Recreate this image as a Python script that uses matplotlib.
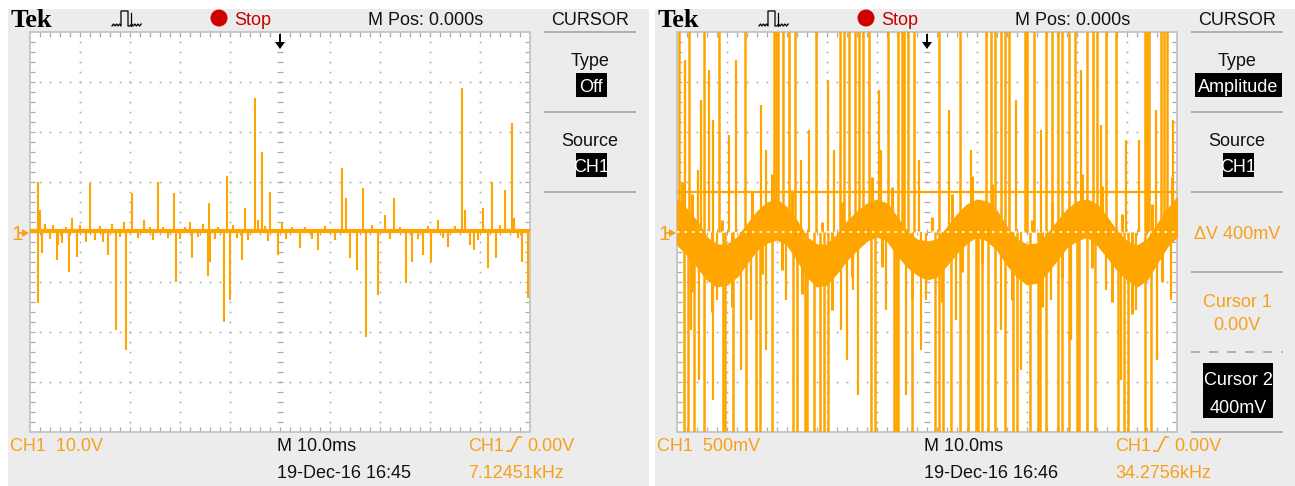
import matplotlib
matplotlib.use("Agg")
import numpy as np
import matplotlib.pyplot as plt
from matplotlib.patches import Rectangle, Circle, Polygon
from matplotlib.collections import LineCollection
from matplotlib.transforms import Affine2D

# ---------------- capture 1: CH1 10.0 V/div, 10.0 ms/div ----------------
left_base_t = [-50.0, 50.0]          # ms
left_base_v = [0.2, 0.2]             # V
left_spike_t = [-48.4, -48.4, -48.0, -47.6, -44.6, -44.4, -41.6, -42.2, -40.6, -38.8,
                -38.0, -34.4, -32.8, -31.2, -30.8, -29.6, -27.2, -24.4, -21.2, -20.8,
                -18.0, -17.6, -14.2, -14.4, -14.0, -11.2, -10.6, -10.0, -7.6, -7.0,
                -5.0, -4.4, -3.6, -2.0, -0.4, 0.4, 4.0, 7.6, 12.4, 13.2,
                14.0, 15.4, 16.6, 17.2, 19.6, 21.0, 22.8, 25.2, 26.4, 28.6,
                30.2, 31.6, 33.6, 36.4, 37.0, 38.0, 38.8, 40.6, 41.6, 42.4,
                43.2, 45.0, 46.4, 46.8, 48.4, 49.6]
left_spike_v = [10.0, -14.2, 4.4, -4.2, -5.6, -2.6, 2.8, -8.0, -5.0, -2.0,
                9.8, -4.6, -19.6, 2.0, -23.6, 7.8, 2.4, 10.0, 7.8, -10.0,
                2.0, -5.2, 5.8, -8.8, -6.0, -18.0, 11.2, -13.6, -5.6, 4.8,
                26.8, 2.4, 16.0, 8.0, -4.6, 2.0, -3.2, -3.6, 12.8, 6.8,
                -5.2, -7.6, 8.8, -21.0, -12.6, 3.4, 6.8, -10.2, -6.0, -4.6,
                -6.0, 2.4, -3.0, 28.8, 4.4, -2.6, -3.6, 4.8, -7.2, 10.0,
                -5.2, 8.4, 21.8, 2.8, -6.0, -13.2]
# small ripple riding on the baseline
left_blip_t = [-47.0, -46.0, -45.4, -43.6, -42.8, -40.0, -37.0, -36.0, -35.4, -33.6,
               -32.0, -28.4, -26.0, -25.4, -23.4, -22.4, -20.0, -19.0, -16.4, -15.4,
               -13.0, -12.4, -9.4, -8.6, -6.4, -3.0, -2.4, 1.2, 2.4, 5.0,
               6.4, 9.0, 11.0, 18.4, 22.0, 24.0, 27.6, 29.6, 32.6, 35.0,
               39.6, 44.0, 47.6]
left_blip_v = [1.6, -1.4, 1.4, -2.2, 1.0, 1.4, -1.6, 1.2, -2.0, 1.6,
               -1.0, -1.2, 1.0, -1.6, 1.0, -1.2, -1.4, 1.0, -1.0, 1.6,
               -1.4, 1.0, 1.4, -1.2, -1.6, 1.2, -1.8, -1.4, 1.0, 1.0,
               -1.4, 1.2, -1.6, 1.4, -1.4, 1.0, -1.4, 1.2, -1.2, 1.2,
               -1.6, 1.4, -1.2]

# ---------------- capture 2: CH1 500 mV/div, 10.0 ms/div ----------------
right_band_t = [-50, -48, -46, -44, -42, -40, -38, -36, -34, -32, -30, -28, -26,
                -24, -22, -20, -18, -16, -14, -12, -10, -8, -6, -4, -2, 0,
                2, 4, 6, 8, 10, 12, 14, 16, 18, 20, 22, 24, 26, 28, 30,
                32, 34, 36, 38, 40, 42, 44, 46, 48, 50]
right_band_hi = [0.32, 0.22, 0.10, -0.06, -0.13, -0.13, -0.06, 0.07, 0.20, 0.29, 0.32,
                 0.24, 0.10, -0.06, -0.13, -0.13, -0.03, 0.10, 0.20, 0.28, 0.32, 0.28,
                 0.14, 0.00, -0.08, -0.10, -0.08, 0.04, 0.17, 0.27, 0.32, 0.30, 0.20,
                 0.04, -0.08, -0.13, -0.12, -0.03, 0.10, 0.22, 0.30, 0.32, 0.27, 0.14,
                 0.00, -0.10, -0.14, -0.08, 0.07, 0.22, 0.34]
right_band_lo = [-0.12, -0.22, -0.34, -0.47, -0.54, -0.52, -0.44, -0.30, -0.17, -0.10, -0.07,
                 -0.12, -0.27, -0.44, -0.54, -0.52, -0.40, -0.27, -0.17, -0.08, -0.04, -0.08,
                 -0.22, -0.34, -0.42, -0.47, -0.44, -0.32, -0.20, -0.10, -0.04, -0.08, -0.17,
                 -0.32, -0.44, -0.52, -0.50, -0.40, -0.27, -0.14, -0.08, -0.04, -0.12, -0.24,
                 -0.37, -0.47, -0.54, -0.47, -0.30, -0.14, -0.04]
# ragged edges of the noise band
right_tooth_t = [-49, -47, -47, -43, -41, -39, -35, -33, -31, -29, -27, -25, -21, -19,
                 -17, -15, -11, -9, -7, -3, 1, 3, 5, 7, 9, 11, 13, 17, 21, 23,
                 25, 27, 31, 33, 35, 37, 39, 41, 45, 47, 49]
right_tooth_v = [0.50, 0.38, -0.60, -0.80, 0.12, -0.75, 0.40, -0.42, 0.58, -0.38, 0.42,
                 -0.62, 0.10, -0.78, 0.30, -0.45, 0.55, -0.35, 0.45, -0.66, 0.15, -0.70,
                 0.38, -0.40, 0.56, -0.32, 0.48, -0.68, 0.12, -0.75, 0.30, -0.46, 0.58,
                 -0.36, 0.46, -0.70, 0.18, -0.82, 0.28, -0.50, 0.55]
# bursts that clip at the top / bottom of the screen (ms)
right_up_t = [-49.6, -47.6, -44.6, -41.6, -36.4, -30.6, -30.2, -29.8, -28.8, -27.6, -26.4,
              -22.2, -17.4, -16.6, -15.6, -14.4, -13.6, -12.8, -11.6, -7.8, -5.8, -5.0,
              -4.6, -3.8, -2.6, 2.4, 6.6, 11.8, 12.8, 13.6, 14.8, 15.6, 16.4, 19.6, 20.0,
              21.4, 23.8, 25.0, 26.2, 27.0, 28.4, 29.6, 32.0, 33.2, 34.0, 35.8, 37.8,
              43.6, 44.0, 44.4, 46.8, 47.4, 48.0]
right_dn_t = [-48.6, -47.8, -46.6, -44.6, -40.8, -40.4, -38.8, -36.2, -34.2, -33.4, -31.0,
              -26.8, -26.0, -24.4, -24.0, -22.6, -21.4, -20.6, -19.8, -11.2, -10.4, -6.6,
              -6.2, -5.8, -3.0, 1.6, 2.4, 3.2, 4.8, 6.6, 8.2, 9.8, 10.2, 11.0, 12.2, 13.6,
              15.6, 17.2, 18.0, 20.6, 22.2, 22.6, 23.8, 26.2, 27.0, 28.4, 30.0, 30.4,
              32.0, 33.6, 38.2, 39.4, 40.2, 43.6, 44.8]
# shorter excursions that stay on screen
right_mid_t = [-45.2, -42.8, -39.6, -32.2, -23.6, -9.2, 34.8, 42.4, 49.2,
               -48.4, -45.8, -43.6, -38.2, -33.2, -25.2, -19.8, -18.6, -9.6, -1.6,
               4.4, 8.8, 17.8, 22.8, 30.8, 39.8, 45.8,
               -45.6, -37.2, -16.0, -13.8, -4.2, -1.2, 18.8, 38.8, 46.0,
               -47.2, -42.8, -42.0, -35.2, -32.2, -28.2, -17.2, -14.8, -8.2, -0.2,
               5.8, 14.8, 24.8, 28.8, 35.8, 41.8, 48.8]
right_mid_v = [1.32, 1.12, 0.97, 0.82, 1.02, 0.82, 1.07, 0.92, 1.12,
               1.72, 0.62, 1.62, 1.72, 1.27, 0.72, 1.52, 0.82, 1.42, 0.72,
               1.22, 0.82, 1.32, 1.02, 1.62, 0.92, 1.22,
               -1.48, -1.38, -1.28, -1.63, -1.63, -1.18, -1.38, -1.48, -1.28,
               -0.98, -1.68, -0.68, -0.88, -1.18, -0.68, -0.98, -0.58, -0.78, -0.68,
               -0.88, -0.98, -0.68, -1.08, -0.58, -0.78, -0.68]
cursor1_v = 0.0
cursor2_v = 0.4

# ---------------- look ----------------
W, H = 1295, 486
DX = 647
ORANGE = "#FFA500"
TXT_OR = "#F7A11A"
BG = "#ECECEC"
GRID = "#ABABAB"
SEP = "#AAAAAA"
FONT = ["Liberation Sans", "DejaVu Sans"]
SERIF = ["Liberation Serif", "DejaVu Serif"]
FS = 13

fig = plt.figure(figsize=(W / 100, H / 100), dpi=100)
fig.patch.set_facecolor("white")
frame = fig.add_axes([0, 0, 1, 1])
frame.set_xlim(0, W)
frame.set_ylim(H, 0)
frame.axis("off")


def txt(x, y, s, color="#111111", ha="left", size=FS, **kw):
    frame.text(x, y, s, color=color, ha=ha, va="baseline", size=size,
               family=kw.pop("family", FONT), **kw)


def boxed(xc, yc, w, h, lines):
    frame.add_patch(Rectangle((xc - w / 2, yc - h / 2), w, h, color="black", lw=0))
    n = len(lines)
    for i, s in enumerate(lines):
        yb = yc - h / 2 + (i + 1) * h / n - 5
        txt(xc, yb, s, color="white", ha="center")


def hsep(x0, x1, y, dashed=False):
    frame.plot([x0, x1], [y, y], color=SEP, lw=1.3,
               ls=(0, (5, 5)) if dashed else "-", solid_capstyle="butt")


def icon(x0):
    xs, ys = [], []
    for i in range(6):
        xs += [x0 + i * 1.5]
        ys += [26 if i % 2 == 0 else 24]
    xs += [x0 + 9, x0 + 9, x0 + 16, x0 + 16]
    ys += [26, 11, 11, 26]
    for i in range(8):
        xs += [x0 + 18 + i * 1.6]
        ys += [26 if i % 2 == 0 else 24]
    frame.plot(xs, ys, color="black", lw=0.9)
    frame.plot([x0 + 19, x0 + 19], [13, 26], color="black", lw=0.9)


def slope(x0, y0):
    frame.plot([x0, x0 + 4, x0 + 11, x0 + 14], [y0, y0, y0 - 14, y0 - 14],
               color=TXT_OR, lw=1.2)


def chrome(dx, scale_txt, time_txt, freq_txt):
    frame.add_patch(Rectangle((8 + dx, 9), 641 if dx == 0 else 640, H - 9, color=BG, lw=0))
    txt(11 + dx, 27, "Tek", color="black", size=19, family=SERIF, weight="bold")
    icon(112 + dx)
    frame.add_patch(Circle((219 + dx, 18), 8.5, color="#D10000", lw=0))
    txt(234 + dx, 25, "Stop", color="#C80000")
    txt(368 + dx, 25, "M Pos: 0.000s")
    txt(590 + dx, 25, "CURSOR", ha="center")
    txt(10 + dx, 451, scale_txt, color=TXT_OR)
    txt(277 + dx, 451, "M 10.0ms")
    txt(468 + dx, 451, "CH1", color=TXT_OR)
    slope(507 + dx, 451)
    txt(527 + dx, 451, "0.00V", color=TXT_OR)
    txt(277 + dx, 478, time_txt)
    txt(468 + dx, 478, freq_txt, color=TXT_OR)
    # ground marker
    txt(11 + dx, 240, "1", color=TXT_OR, size=15)
    frame.plot([19 + dx, 24 + dx], [233, 233], color=TXT_OR, lw=1.3)
    frame.add_patch(Polygon([(22 + dx, 229), (29 + dx, 233), (22 + dx, 237)],
                            closed=True, color=TXT_OR, lw=0))


def screen(dx):
    ax = fig.add_axes([(30 + dx) / W, 1 - 432 / H, 500 / W, 400 / H])
    ax.set_facecolor("white")
    ax.set_xticks([])
    ax.set_yticks([])
    for s in ax.spines.values():
        s.set_visible(False)
    ax.set_xlim(-50, 50)
    tdiv = Affine2D().scale(0.1, 0.125).translate(0.5, 0.5) + ax.transAxes
    # dotted graticule
    fine_y = -4 + 0.2 * np.arange(1, 40)
    fine_x = -5 + 0.2 * np.arange(1, 50)
    px, py = [], []
    for xd in range(-4, 5):
        if xd != 0:
            px += [xd] * len(fine_y)
            py += list(fine_y)
    for yd in range(-3, 4):
        if yd != 0:
            px += list(fine_x)
            py += [yd] * len(fine_x)
    ax.plot(px, py, ls="none", marker="s", ms=1.2, mew=0, color=GRID,
            transform=tdiv, zorder=1)
    segs = []
    for yd in fine_y:
        segs.append([(-0.06, yd), (0.06, yd)])
        segs.append([(-5, yd), (-4.9, yd)])
        segs.append([(5, yd), (4.9, yd)])
    for xd in fine_x:
        segs.append([(xd, -0.06), (xd, 0.06)])
        segs.append([(xd, 4), (xd, 3.9)])
        segs.append([(xd, -4), (xd, -3.9)])
    ax.add_collection(LineCollection(segs, colors=GRID, lw=0.9, transform=tdiv, zorder=1))
    ax.add_patch(Rectangle((-5, -4), 10, 8, fill=False, ec="#C4C4C4", lw=1.3,
                           transform=tdiv, zorder=1, clip_on=False))
    # trigger position marker
    ax.plot([0, 0], [3.94, 3.78], color="black", lw=1.4, transform=tdiv,
            clip_on=False, zorder=6)
    ax.add_patch(Polygon([(-0.1, 3.8), (0.1, 3.8), (0, 3.66)], closed=True,
                         color="black", lw=0, transform=tdiv, clip_on=False, zorder=6))
    return ax


# ---------------- left capture ----------------
chrome(0, "CH1  10.0V", "19-Dec-16 16:45", "7.12451kHz")
for y in (32, 112, 192):
    hsep(544, 636, y)
txt(590, 66, "Type", ha="center")
boxed(591, 85, 31, 24, ["Off"])
txt(590, 146, "Source", ha="center")
boxed(591, 165, 31, 24, ["CH1"])

axl = screen(0)
axl.set_ylim(-40, 40)
axl.plot(left_base_t, left_base_v, color=ORANGE, lw=3.0, zorder=3)
axl.vlines(left_blip_t, 0, left_blip_v, color=ORANGE, lw=1.5, zorder=3)
axl.vlines(left_spike_t, 0, left_spike_v, color=ORANGE, lw=1.5, zorder=3)

# ---------------- right capture ----------------
chrome(DX, "CH1  500mV", "19-Dec-16 16:46", "34.2756kHz")
for y in (32, 112, 192, 272, 432):
    hsep(544 + DX, 636 + DX, y)
hsep(544 + DX, 636 + DX, 352, dashed=True)
txt(590 + DX, 66, "Type", ha="center")
boxed(1238, 85, 87, 24, ["Amplitude"])
txt(590 + DX, 146, "Source", ha="center")
boxed(1238, 165, 31, 24, ["CH1"])
txt(1237, 239, "\u0394V 400mV", color=TXT_OR, ha="center")
txt(1237, 307, "Cursor 1", color=TXT_OR, ha="center")
txt(1237, 330, "0.00V", color=TXT_OR, ha="center")
boxed(1238, 390, 70, 55, ["Cursor 2", "400mV"])

axr = screen(DX)
axr.set_ylim(-2, 2)
axr.fill_between(right_band_t, right_band_lo, right_band_hi, color=ORANGE, lw=1.5,
                 zorder=3)
axr.vlines(right_tooth_t, 0, right_tooth_v, color=ORANGE, lw=2.2, zorder=3)
axr.vlines(right_up_t, 0, 2.5, color=ORANGE, lw=1.8, zorder=3)
axr.vlines(right_dn_t, 0, -2.5, color=ORANGE, lw=1.8, zorder=3)
axr.vlines(right_mid_t, 0, right_mid_v, color=ORANGE, lw=1.6, zorder=3)
axr.axhline(cursor2_v, color=ORANGE, lw=1.6, zorder=4)
axr.axhline(cursor1_v, color="white", lw=1.2, ls=(0, (1.5, 3)), zorder=4)

fig.savefig("out.png", dpi=100)
